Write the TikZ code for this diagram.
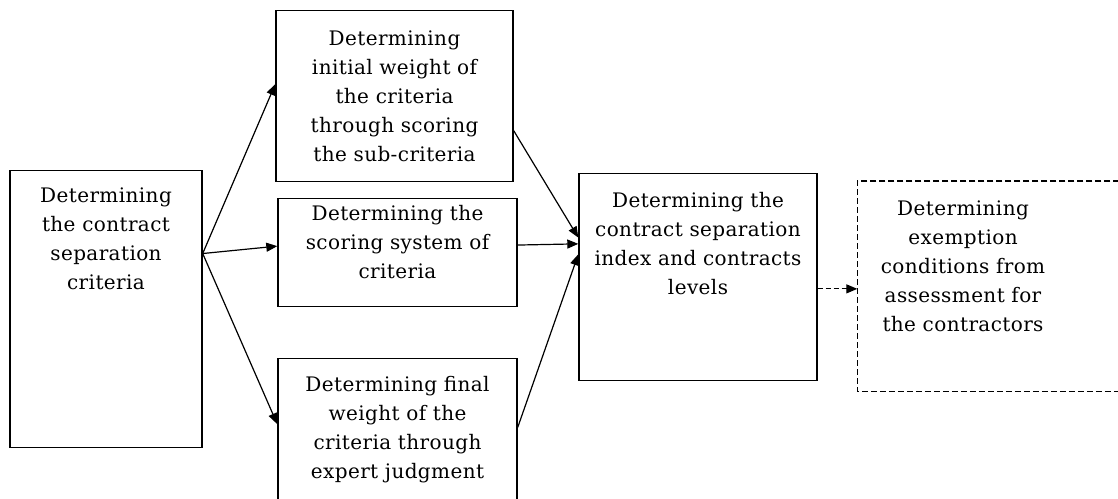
\documentclass[tikz,border=0pt]{standalone}
\usepackage{fontspec}
\setmainfont{DejaVu Serif}[LetterSpace=2]
\usetikzlibrary{arrows.meta,calc}

\tikzset{
  stage/.style={draw, line width=1.4pt, anchor=north, align=center, inner sep=0pt,
    font=\fontsize{20}{29}\selectfont},
  link/.style={line width=1.2pt, -{Triangle[length=11pt,width=9pt]}},
  frame/.style={line width=1.2pt, dash pattern=on 6pt off 3pt},
}

\begin{document}
\begin{tikzpicture}[x=1pt,y=-1pt]
\useasboundingbox (0,0) rectangle (1118,498);

% the six stages
\node[stage, text width=192pt, text height=32pt, text depth=245pt] (crit) at (106,170)
  {Determining\\the contract\\separation\\criteria};
\node[stage, text width=237pt, text height=35pt, text depth=136pt] (init) at (394.5,10)
  {Determining\\initial weight of\\the criteria\\through scoring\\the sub-criteria};
\node[stage, text width=239pt, text height=22pt, text depth=86pt] (score) at (397.5,198)
  {Determining the\\scoring system of\\criteria};
\node[stage, text width=239pt, text height=33pt, text depth=127pt] (final) at (397.5,358)
  {Determining final\\weight of the\\criteria through\\expert judgment};
\node[stage, text width=238pt, text height=34pt, text depth=173pt] (index) at (698,173)
  {Determining the\\contract separation\\index and contracts\\levels};
\node[stage, draw=none, text width=210pt, text height=34pt, text depth=175pt] (exempt) at (963,181)
  {Determining\\exemption\\conditions from\\assessment for\\the contractors};
\draw[frame] ([xshift=280pt]exempt.north west) -- (exempt.north west)
  -- (exempt.south west) -- ([xshift=280pt]exempt.south west);

% connectors
\coordinate (crit out) at ($(crit.north east)!0.3!(crit.south east)$);
\draw[link] (crit out) -- ($(init.north west)!0.43!(init.south west)$);
\draw[link] (crit out) -- ($(score.north west)!0.44!(score.south west)$);
\draw[link] (crit out) -- ($(final.north west)!0.41!(final.south west)$);

\draw[link] ($(init.north east)!0.7!(init.south east)$) -- ($(index.north west)!0.31!(index.south west)$);
\draw[link] ($(score.north east)!0.43!(score.south east)$) -- ($(index.north west)!0.34!(index.south west)$);
\draw[link] ($(final.north east)!0.43!(final.south east)$) -- ($(index.north west)!0.39!(index.south west)$);

\coordinate (index out) at ($(index.north east)!0.556!(index.south east)$);
\draw[link, dash pattern=on 5pt off 3pt] (index out) -- (index out -| exempt.west);
\end{tikzpicture}
\end{document}
